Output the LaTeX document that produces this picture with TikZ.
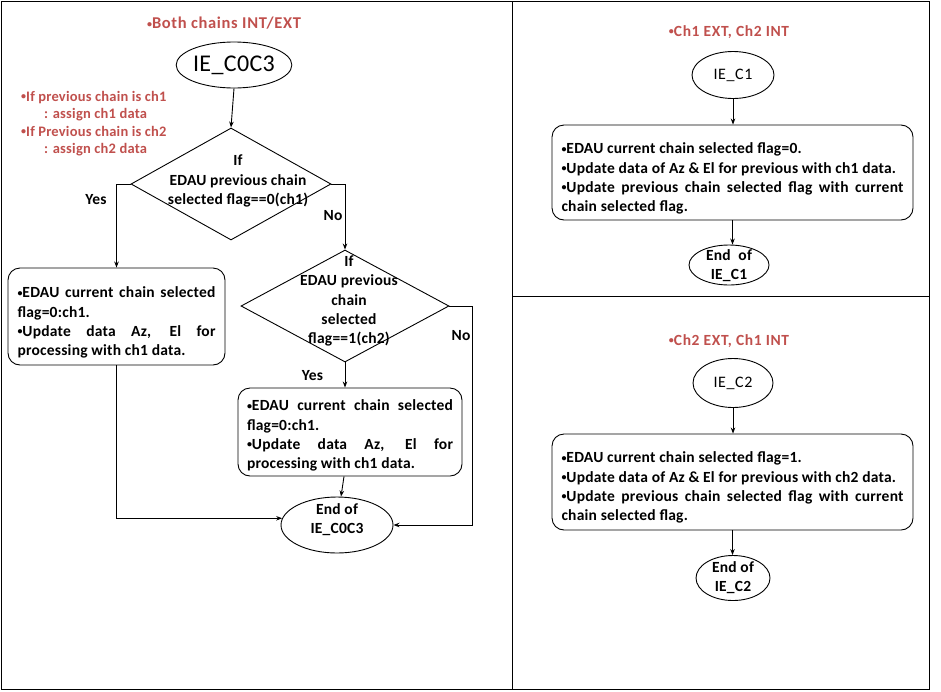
\documentclass[tikz,border=0pt]{standalone}
\usepackage{fontspec}
\setmainfont{Carlito}[LetterSpace=1.5]
\newfontfamily\widefont[LetterSpace=4]{Carlito}
\usetikzlibrary{shapes.geometric,arrows.meta,calc}
\definecolor{redtxt}{HTML}{C0504D}
\setlength{\parindent}{0pt}
\newcommand\bul{\raisebox{1.4pt}{\fontsize{10}{10}\selectfont •}}
\newcommand\topstrut[1]{\rule{0pt}{#1}}
\begin{document}
\begin{tikzpicture}[x=1pt,y=-1pt,
  every node/.style={font=\bfseries\fontsize{15.5}{19.2}\selectfont},
  ln/.style={line width=0.9pt},
  arr/.style={ln,-{Stealth[length=6pt,width=4.5pt]}},
  ell/.style={draw,ln,ellipse,inner sep=0pt},
  dia/.style={draw,ln,diamond,inner sep=0pt},
  box/.style={draw,ln,rounded corners=12pt,align=justify,inner ysep=2pt},
  redlbl/.style={text=redtxt,font=\bfseries\fontsize{14.5}{17.5}\selectfont},
  ttl/.style={text=redtxt,font=\widefont\bfseries\fontsize{15.5}{18}\selectfont},
  ]
\useasboundingbox (0,0) rectangle (941,691);
% frames
\draw[ln] (1,1) rectangle (929,689);
\draw[ln] (512,1) -- (512,689);
\draw[ln] (512,296) -- (929,296);

% ---------- left panel ----------
\node[ttl,font=\widefont\bfseries\fontsize{16.5}{18}\selectfont] (t1) at (224,23) {\bul Both chains INT/EXT};
\node[ell,minimum width=104pt,minimum height=46pt,font=\fontsize{24}{28}\selectfont] (e1) at (234,65) {IE\_C0C3};
\node[redlbl,align=left,anchor=north west,inner sep=0pt] (note) at (21,91)
  {\bul If previous chain is ch1\\\hspace*{23pt}: assign ch1 data\\\bul If Previous chain is ch2\\\hspace*{23pt}: assign ch2 data};

\node[dia,minimum width=200pt,minimum height=112pt] (d1) at (231,184) {};
\node[align=center,inner sep=0pt] (d1t) at (238,181) {If\\EDAU previous chain\\selected flag==0(ch1)};

\node[dia,minimum width=208pt,minimum height=112pt] (d2) at (345,306) {};
\node[align=center,inner sep=0pt] (d2t) at (349,301) {If\\EDAU previous\\chain\\selected\\flag==1(ch2)};

\node[box,text width=198pt,inner xsep=9.5pt,minimum height=97pt] (b1) at (116.5,316.5)
  {\topstrut{23pt}\bul EDAU current chain selected\linebreak flag=0:ch1.\par \bul Update data Az, El for\linebreak processing with ch1 data.};
\node[box,text width=206pt,inner xsep=9pt,minimum height=88pt] (b2) at (350,432)
  {\topstrut{18pt}\bul EDAU current chain selected\linebreak flag=0:ch1.\par \bul Update data Az, El for\linebreak processing with ch1 data.};

\node[ell,minimum width=112pt,minimum height=56pt] (e3) at (337,525) {};
\node[align=center,inner sep=0pt] (e3t) at (337,520) {End of\\IE\_C0C3};

\node (y1) at (96,200) {Yes};
\node (n1) at (333,216) {No};
\node (y2) at (312.5,376) {Yes};
\node (n2) at (461,336) {No};

\draw[arr] (e1.south) -- (d1.north);
\draw[arr] (d1.west) -| (b1.north);
\draw[arr] (d1.east) -| (d2.north);
\draw[arr] (d2.south) -- (d2.south |- b2.north);
\draw[arr] (d2.east) -- ++(23,0) |- (e3.east);
\draw[arr] (b1.south) |- (e3.173);
\draw[arr] ([xshift=-6pt]b2.south) -- ([xshift=4pt]e3.north);

% ---------- right top panel ----------
\node[ttl] (t2) at (729,32) {\bul Ch1 EXT, Ch2 INT};
\node[ell,minimum width=82pt,minimum height=47pt,font=\widefont\fontsize{16}{19}\selectfont] (c1) at (733,75) {IE\_C1};
\node[box,text width=342pt,inner xsep=9.5pt,minimum height=95pt] (rb1) at (732.5,172.5)
  {\topstrut{23pt}\bul EDAU current chain selected flag=0.\par \bul Update data of Az \& El for previous with ch1 data.\par \bul Update previous chain selected flag with current\linebreak chain selected flag.};
\node[ell,minimum width=80pt,minimum height=40pt] (end1) at (729,265) {};
\node[align=center,inner sep=0pt] (end1t) at (729,265.5) {End\enspace of\\IE\_C1};
\draw[arr] (c1.south) -- (c1.south |- rb1.north);
\draw[arr] (rb1.south) -- (rb1.south |- end1.north);

% ---------- right bottom panel ----------
\node[ttl] (t3) at (729,341) {\bul Ch2 EXT, Ch1 INT};
\node[ell,minimum width=80pt,minimum height=49pt,font=\widefont\fontsize{16}{19}\selectfont] (c2) at (733,383) {IE\_C2};
\node[box,text width=342pt,inner xsep=9.5pt,minimum height=96pt] (rb2) at (732.5,482)
  {\topstrut{22pt}\bul EDAU current chain selected flag=1.\par \bul Update data of Az \& El for previous with ch2 data.\par \bul Update previous chain selected flag with current\linebreak chain selected flag.};
\node[ell,minimum width=74pt,minimum height=45pt] (end2) at (733,578) {};
\node[align=center,inner sep=0pt] (end2t) at (733,578) {End of\\IE\_C2};
\draw[arr] (c2.south) -- (c2.south |- rb2.north);
\draw[arr] (rb2.south) -- (rb2.south |- end2.north);
\end{tikzpicture}
\end{document}
